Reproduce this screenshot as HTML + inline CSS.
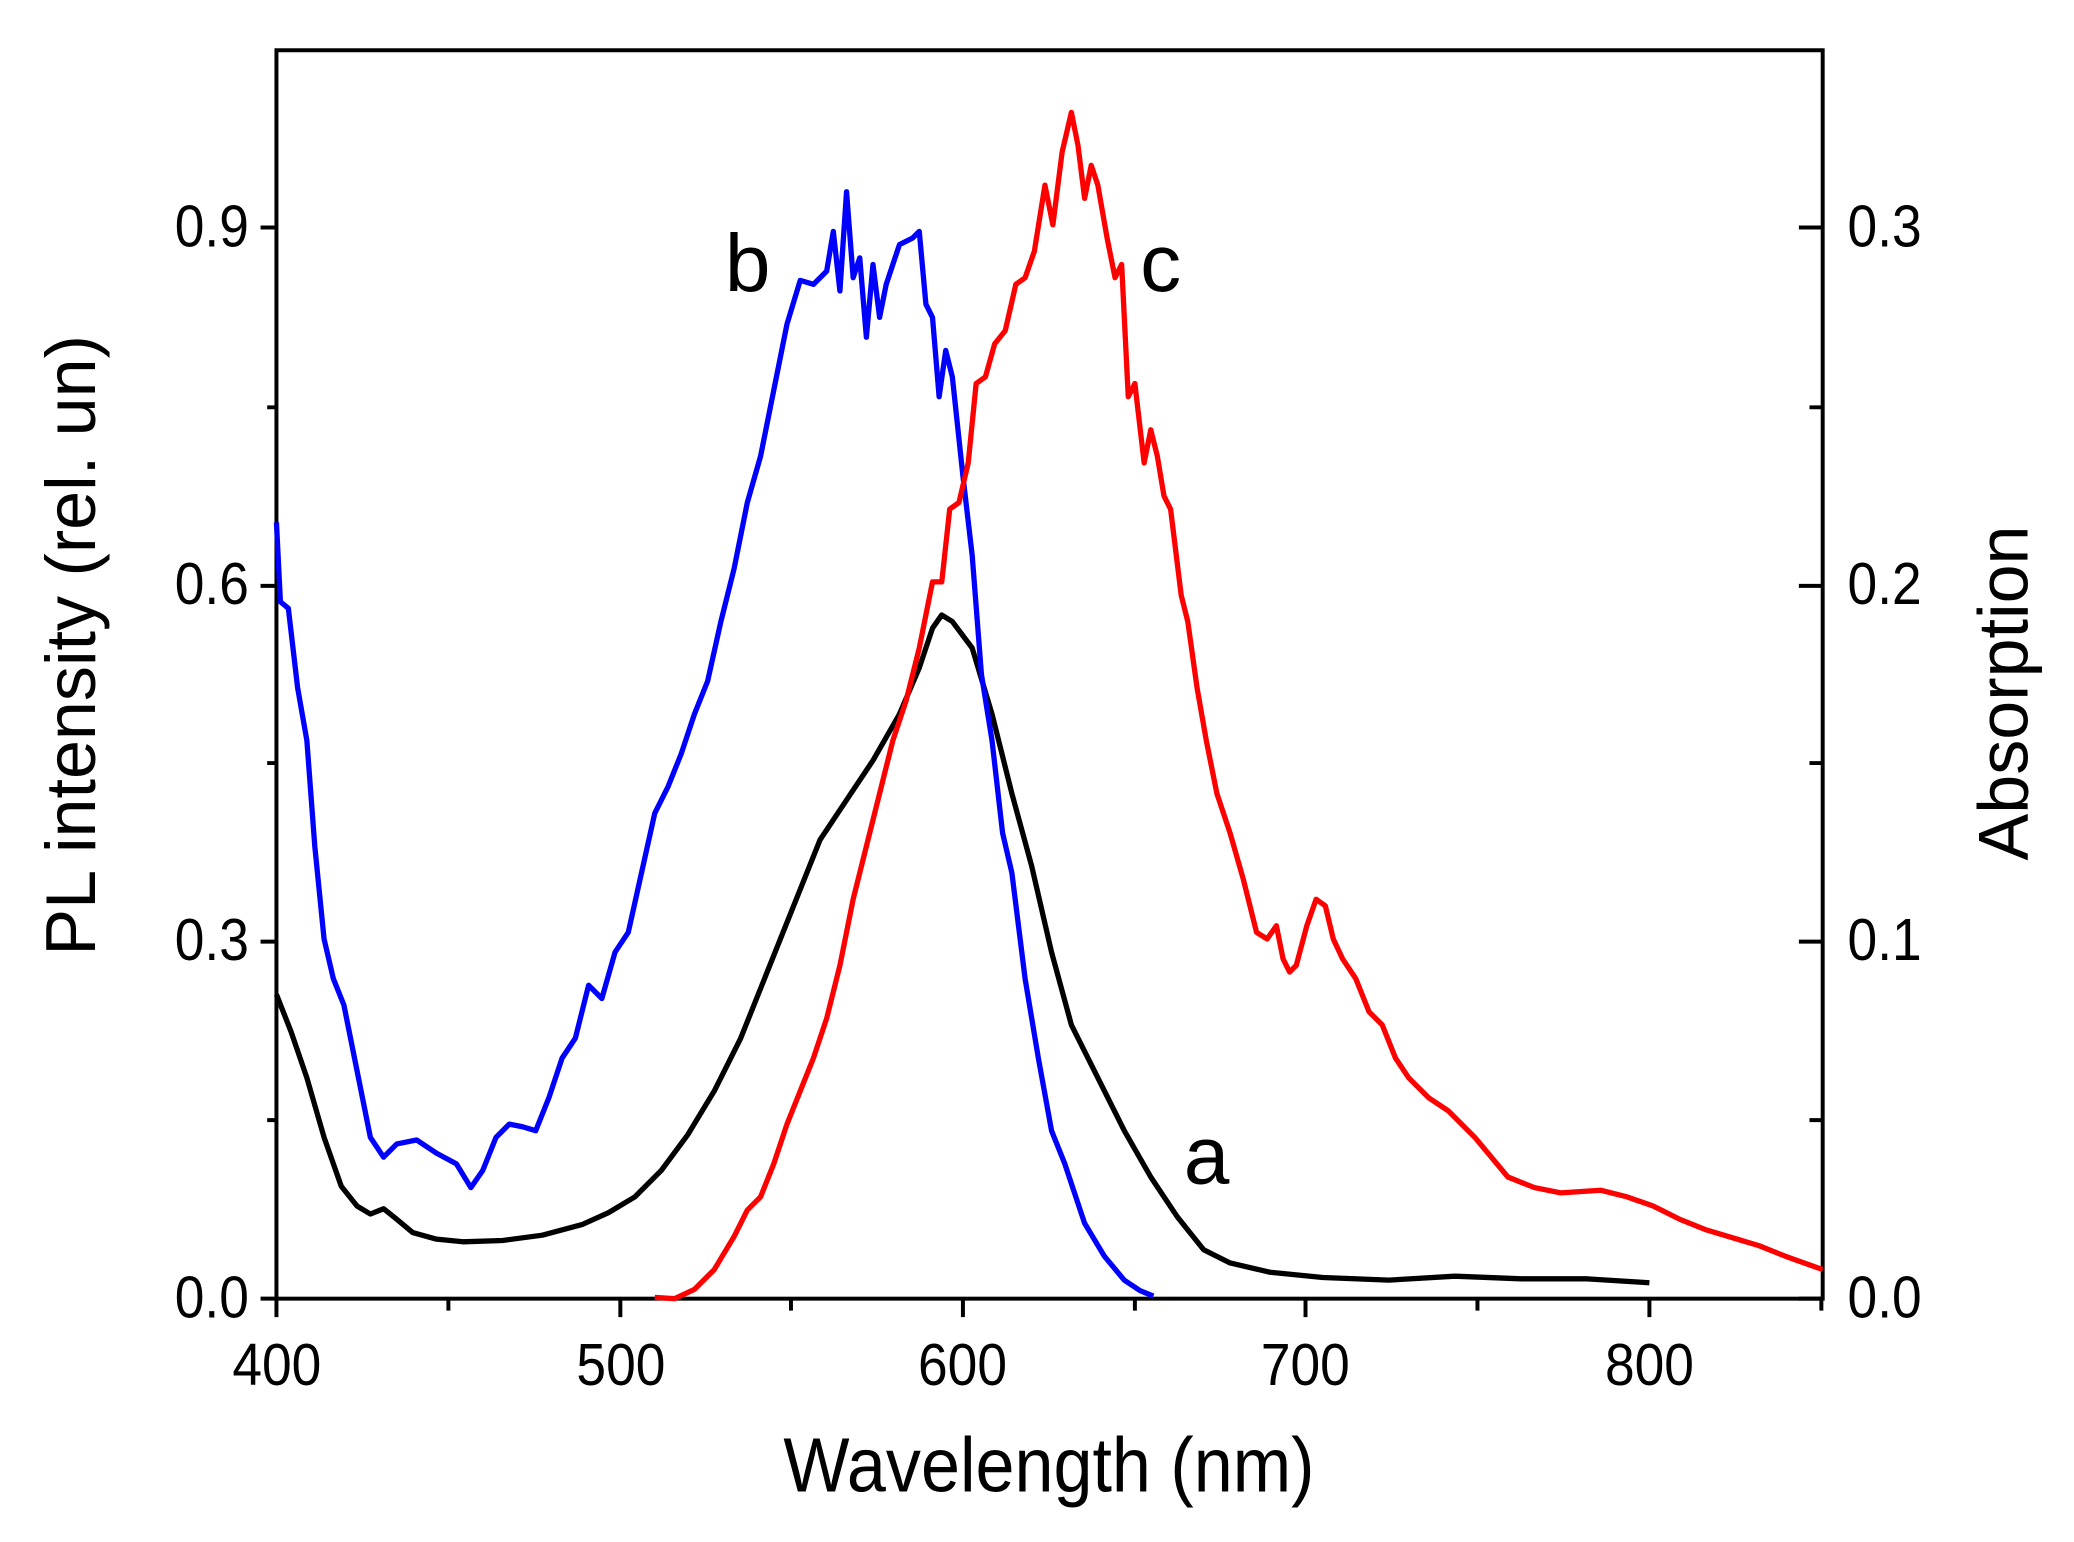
<!DOCTYPE html>
<html><head><style>html,body{margin:0;padding:0;background:#fff}svg{display:block}</style></head>
<body>
<svg width="2074" height="1542" viewBox="0 0 1568 1166" preserveAspectRatio="none" xmlns="http://www.w3.org/2000/svg" font-family="Liberation Sans, Arial, sans-serif">
<rect width="1568" height="1166" fill="#fff"/>
<g stroke="#000" stroke-width="3" fill="none">
<rect x="209" y="38" width="1169" height="944"/>
<path d="M209,982v14M339,982v9M469,982v14M598,982v9M728,982v14M858,982v9M987,982v14M1117,982v9M1247,982v14M1377,982v9"/>
<path d="M209,982h-12M209,847h-7M209,712h-12M209,577h-7M209,443h-12M209,308h-7M209,172h-12"/>
<path d="M1378,982h-18M1378,847h-10M1378,712h-18M1378,577h-10M1378,443h-18M1378,308h-10M1378,172h-18"/>
</g>
<g font-size="42" fill="#000">
<g text-anchor="end" transform="scale(0.96,1.06)"><text x="196" y="940">0.0</text><text x="196" y="685">0.3</text><text x="196" y="431">0.6</text><text x="196" y="176">0.9</text></g>
<g transform="scale(0.96,1.06)"><text x="1455" y="940">0.0</text><text x="1455" y="685">0.1</text><text x="1455" y="431">0.2</text><text x="1455" y="176">0.3</text></g>
<g text-anchor="middle" transform="scale(0.96,1.06)"><text x="218" y="988">400</text><text x="489" y="988">500</text><text x="758" y="988">600</text><text x="1028" y="988">700</text><text x="1299" y="988">800</text></g>
</g>
<text transform="translate(793,1128) scale(1.0,1.1)" font-size="53" text-anchor="middle">Wavelength (nm)</text>
<text transform="translate(72,488) rotate(-90)" font-size="53" text-anchor="middle">PL intensity (rel. un)</text>
<text transform="translate(1533,524) rotate(-90)" font-size="53" text-anchor="middle">Absorption</text>
<text x="548" y="220" font-size="62">b</text>
<text x="862" y="220" font-size="62">c</text>
<text x="895" y="895" font-size="62">a</text>
<g fill="none" stroke-width="4" stroke-linejoin="round">
<polyline stroke="#000" points="209,752 220,780 232,815 245,860 258,897 270,912 280,918 290,914 300,922 312,932 330,937 350,939 380,938 410,934 440,926 460,917 480,905 500,885 520,858 540,825 560,785 580,735 600,685 620,635 640,605 660,575 680,540 695,505 705,475 712,465 720,470 735,490 750,540 765,600 780,655 795,720 810,775 830,815 850,855 870,890 890,920 910,945 930,955 960,962 1000,966 1050,968 1100,965 1150,967 1200,967 1247,970"/>
<polyline stroke="#0000ff" points="209,395 212,455 218,460 225,520 232,560 238,640 245,710 252,740 260,760 270,810 280,860 290,875 300,865 315,862 330,872 345,880 356,898 365,885 375,860 385,850 395,852 405,855 415,830 425,800 435,785 445,745 455,755 465,720 475,705 485,660 495,615 505,595 515,570 525,540 535,515 545,470 555,430 565,380 575,345 585,295 595,245 605,212 615,215 625,205 630,175 635,220 640,145 645,210 650,195 655,255 660,200 665,240 670,215 680,185 690,180 695,175 700,230 705,240 710,300 715,265 720,285 728,360 735,420 742,510 750,560 758,630 765,660 775,740 785,800 795,855 805,880 820,925 835,950 850,968 862,976 872,980"/>
<polyline stroke="#ff0000" points="495,981 510,982 525,975 540,960 555,935 565,915 575,905 585,880 595,850 605,825 615,800 625,770 635,730 645,680 655,640 665,600 675,560 685,530 695,490 705,440 712,440 718,385 725,380 732,350 738,290 745,285 752,260 760,250 768,215 775,210 782,190 790,140 796,170 803,115 810,85 815,110 820,150 825,125 830,140 837,180 843,210 848,200 853,300 858,290 865,350 870,325 875,345 880,375 885,385 893,450 898,470 905,520 912,560 920,600 930,630 940,665 950,705 958,710 965,700 970,725 975,735 980,730 988,700 995,680 1002,685 1008,710 1015,725 1025,740 1035,765 1045,775 1055,800 1065,815 1080,830 1095,840 1105,850 1115,860 1125,872 1140,890 1160,898 1180,902 1210,900 1230,905 1250,912 1270,922 1290,930 1310,936 1330,942 1350,950 1378,960"/>
</g>
</svg>
</body></html>
